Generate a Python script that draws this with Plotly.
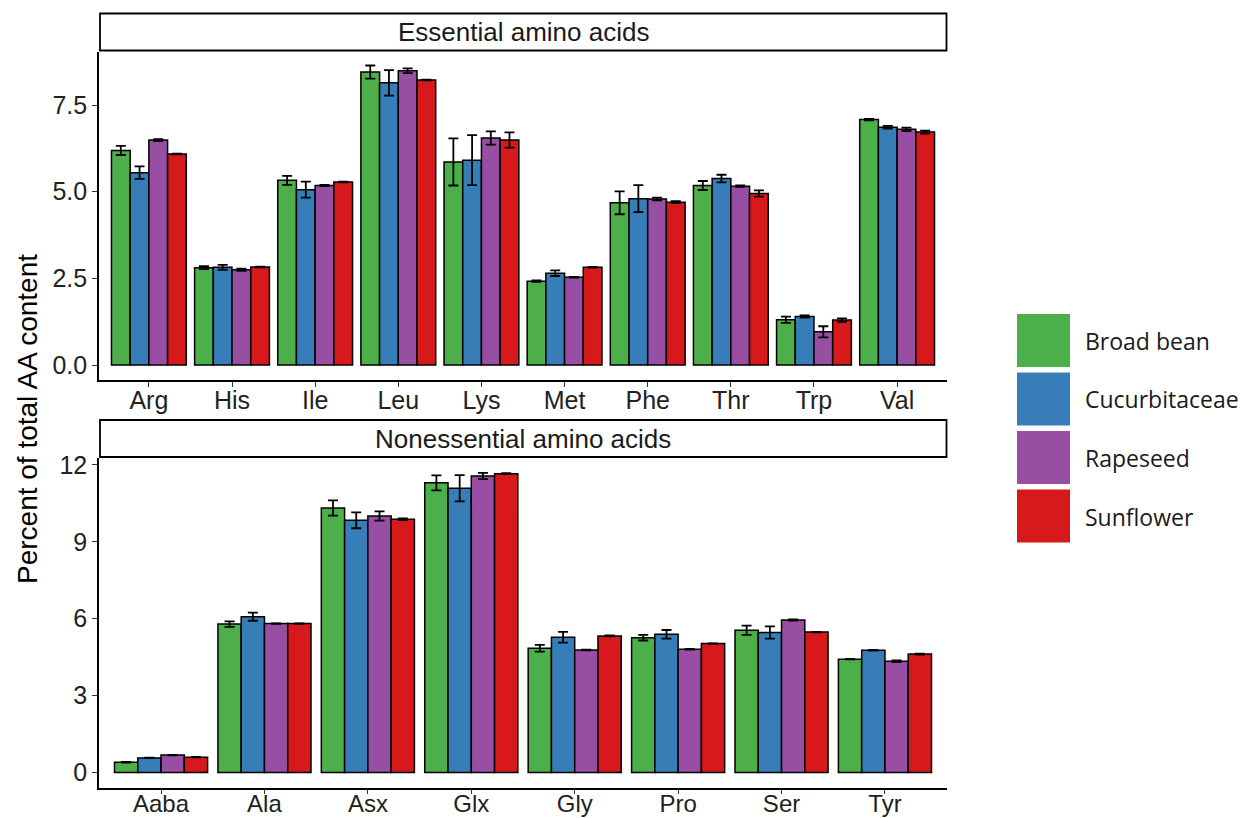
import plotly.graph_objects as go

W, H = 1240, 818

species = ["Broad bean", "Cucurbitaceae", "Rapeseed", "Sunflower"]
colors = ["#4DAF4A", "#377EB8", "#984EA3", "#D7191C"]

ess_cats = ["Arg", "His", "Ile", "Leu", "Lys", "Met", "Phe", "Thr", "Trp", "Val"]
broad_ess = [6.19, 2.81, 5.33, 8.45, 5.86, 2.42, 4.68, 5.18, 1.31, 7.08]
broad_ess_err = [0.13, 0.04, 0.13, 0.19, 0.68, 0.02, 0.33, 0.13, 0.09, 0.02]
cucu_ess = [5.55, 2.82, 5.06, 8.14, 5.91, 2.65, 4.80, 5.38, 1.40, 6.86]
cucu_ess_err = [0.18, 0.07, 0.23, 0.37, 0.72, 0.08, 0.39, 0.11, 0.03, 0.04]
rape_ess = [6.49, 2.75, 5.18, 8.49, 6.55, 2.53, 4.79, 5.16, 0.96, 6.80]
rape_ess_err = [0.03, 0.03, 0.02, 0.07, 0.19, 0.01, 0.04, 0.02, 0.16, 0.05]
sun_ess = [6.09, 2.83, 5.28, 8.22, 6.49, 2.82, 4.70, 4.95, 1.30, 6.72]
sun_ess_err = [0.01, 0.01, 0.01, 0.01, 0.22, 0.01, 0.03, 0.09, 0.05, 0.04]

non_cats = ["Aaba", "Ala", "Asx", "Glx", "Gly", "Pro", "Ser", "Tyr"]
broad_non = [0.40, 5.79, 10.32, 11.30, 4.85, 5.26, 5.55, 4.42]
broad_non_err = [0.01, 0.11, 0.30, 0.29, 0.13, 0.11, 0.18, 0.01]
cucu_non = [0.57, 6.08, 9.84, 11.09, 5.28, 5.39, 5.46, 4.77]
cucu_non_err = [0.01, 0.16, 0.31, 0.51, 0.21, 0.17, 0.24, 0.01]
rape_non = [0.68, 5.81, 10.01, 11.57, 4.78, 4.81, 5.95, 4.34]
rape_non_err = [0.01, 0.01, 0.18, 0.12, 0.01, 0.01, 0.02, 0.03]
sun_non = [0.60, 5.81, 9.88, 11.66, 5.33, 5.03, 5.48, 4.62]
sun_non_err = [0.01, 0.01, 0.03, 0.02, 0.02, 0.01, 0.01, 0.02]

ess_vals = [broad_ess, cucu_ess, rape_ess, sun_ess]
ess_errs = [broad_ess_err, cucu_ess_err, rape_ess_err, sun_ess_err]
non_vals = [broad_non, cucu_non, rape_non, sun_non]
non_errs = [broad_non_err, cucu_non_err, rape_non_err, sun_non_err]

TEXT_FONT = "Liberation Sans, Arial, sans-serif"
TICK_COLOR = "#222222"

def px_x(p):
    return p / W

def px_y(p):
    return 1 - p / H

fig = go.Figure()

for i, name in enumerate(species):
    fig.add_trace(go.Bar(
        x=ess_cats, y=ess_vals[i], name=name, marker_color=colors[i],
        marker_line=dict(color="black", width=1.5),
        error_y=dict(type="data", array=ess_errs[i], color="black", thickness=1.8, width=5),
        xaxis="x", yaxis="y", showlegend=False,
    ))
    fig.add_trace(go.Bar(
        x=non_cats, y=non_vals[i], name=name, marker_color=colors[i],
        marker_line=dict(color="black", width=1.5),
        error_y=dict(type="data", array=non_errs[i], color="black", thickness=1.8, width=5),
        xaxis="x2", yaxis="y2", showlegend=False,
    ))

xdom = [px_x(99), px_x(947)]
axis_common = dict(
    showline=True, linecolor="black", linewidth=1.6, showgrid=False, zeroline=False,
    ticks="outside", ticklen=5, tickwidth=1.4, tickcolor="#333333", automargin=False,
)
tick_font = dict(family=TEXT_FONT, size=25, color=TICK_COLOR)

fig.update_layout(
    template="none",
    width=W, height=H, autosize=False,
    margin=dict(l=0, r=0, t=0, b=0, pad=0),
    paper_bgcolor="white", plot_bgcolor="white",
    barmode="group", bargap=0.1, bargroupgap=0,
    xaxis=dict(domain=xdom, anchor="y", range=[-0.6, len(ess_cats) - 0.4],
               tickfont=tick_font, ticklabelstandoff=-8, **axis_common),
    yaxis=dict(domain=[px_y(380), px_y(52)], anchor="x", range=[-0.43, 9.03],
               tickvals=[0, 2.5, 5, 7.5], ticktext=["0.0", "2.5", "5.0", "7.5"],
               tickfont=tick_font, **axis_common),
    xaxis2=dict(domain=xdom, anchor="y2", range=[-0.6, len(non_cats) - 0.4],
                tickfont=dict(family=TEXT_FONT, size=24, color=TICK_COLOR),
                ticklabelstandoff=-11, **axis_common),
    yaxis2=dict(domain=[px_y(787.5), px_y(457.5)], anchor="x2", range=[-0.585, 12.29],
                tickvals=[0, 3, 6, 9, 12], tickfont=tick_font, **axis_common),
)

shapes = []
annotations = []

# facet strips
for (top, bot, label) in [(13.5, 50.5, "Essential amino acids"), (420, 457, "Nonessential amino acids")]:
    shapes.append(dict(type="rect", xref="paper", yref="paper",
                       x0=px_x(100), x1=px_x(946.5), y0=px_y(bot), y1=px_y(top),
                       line=dict(color="black", width=1.8), fillcolor="white", layer="below"))
    annotations.append(dict(x=px_x((100 + 946.5) / 2), y=px_y((top + bot) / 2), xref="paper", yref="paper",
                            text=label, showarrow=False, xanchor="center", yanchor="middle",
                            font=dict(family=TEXT_FONT, size=26, color="#1a1a1a")))

# y-axis title
annotations.append(dict(x=px_x(27), y=px_y(419), xref="paper", yref="paper",
                        text="Percent of total AA content", textangle=-90, showarrow=False,
                        xanchor="center", yanchor="middle",
                        font=dict(family=TEXT_FONT, size=28, color="black")))

# legend
key_tops = [314, 372.5, 431, 489.5]
for i, name in enumerate(species):
    t = key_tops[i]
    shapes.append(dict(type="rect", xref="paper", yref="paper",
                       x0=px_x(1017), x1=px_x(1070), y0=px_y(t + 53), y1=px_y(t),
                       line=dict(width=0), fillcolor=colors[i]))
    annotations.append(dict(x=px_x(1083), y=px_y(t + 27), xref="paper", yref="paper",
                            text=name, showarrow=False, xanchor="left", yanchor="middle",
                            font=dict(family="Open Sans, sans-serif", size=23, color="#1a1a1a")))

fig.update_layout(shapes=shapes, annotations=annotations)

fig.write_html("out.html")
